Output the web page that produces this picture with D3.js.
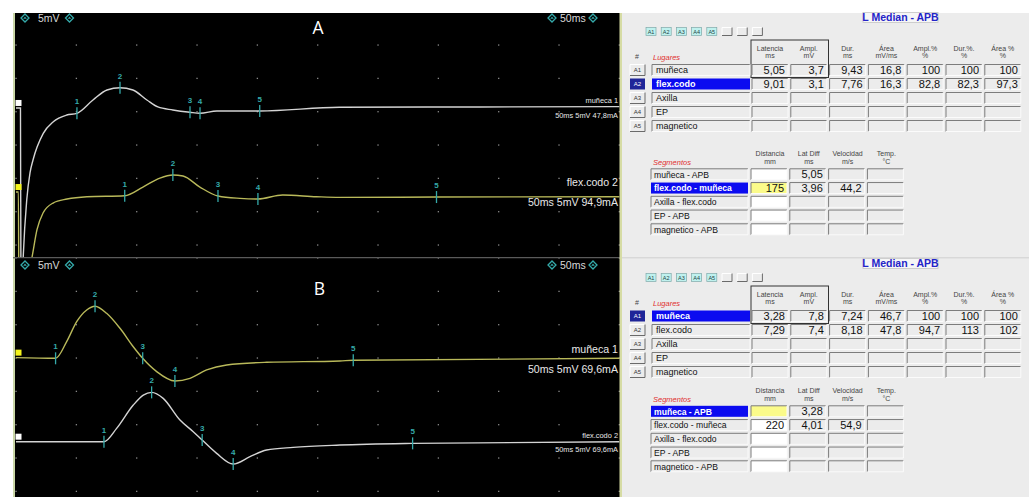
<!DOCTYPE html>
<html><head><meta charset="utf-8">
<script src="https://cdn.jsdelivr.net/npm/d3@7"></script>
<style>
body{margin:0;background:#fff;}
svg{display:block;font-family:"Liberation Sans",Arial,sans-serif;}
</style>
</head><body>
<svg id="c" width="1029" height="497"></svg>
<script>
// ================= DATA =================
const sweepMs = 50;          // ms across the screen
const timeDivMs = 5;         // ms per division
const gainMvPerDiv = 5;      // mV per division
const timeTicks = d3.range(0, sweepMs + 0.01, timeDivMs);

// Panel A traces  [ms, mV]
const traceA_muneca = [[0,0.8],[0.37,0.8],[0.41,-25],[0.5,-26.5],[0.6,-21.5],[0.89,-13],[1.16,-8.95],[1.41,-7],[2.26,-3],[3.09,-1.26],[4.2,-0.26],[5.05,0],[6.38,2],[7.54,3.5],[8.62,3.84],[9.69,3.5],[10.85,2],[11.76,0.95],[13,0.5],[14.42,0.15],[15.25,0],[16.65,0.35],[20.2,0.35],[26.8,0.9],[38.4,0.95],[50,1.0]];
const traceA_flex = [[0,0.55],[0.2,0.55],[0.25,-20],[0.75,-14],[1.33,-9.2],[1.74,-5.1],[2.24,-2.6],[3.07,-1.1],[4.23,-0.5],[5.88,-0.15],[9.01,0],[10.52,1.3],[11.93,2.65],[13.0,3.1],[13.84,2.95],[15.24,1.3],[16.74,-0.05],[18.56,-0.4],[20.05,-0.5],[22.1,0.1],[24.9,-0.15],[26.8,-0.25],[34.85,-0.2],[50,-0.15]];
// Panel B traces
const traceB_muneca = [[0,0.1],[3.28,0],[4.2,2.5],[5.03,5.5],[5.86,7.25],[6.55,7.8],[7.51,6.75],[8.62,4.5],[9.72,1.74],[10.5,0],[11.66,-2.0],[13.17,-3.4],[14.42,-3.0],[15.8,-1.75],[17.46,-1.0],[20.77,-0.6],[26.84,-0.4],[27.95,-0.3],[50,0]];
const traceB_flex = [[0,0],[7.29,0],[8.34,2.0],[9.72,5.5],[10.55,7.0],[11.24,7.4],[12.2,6.5],[13.59,3.25],[14.69,1.5],[15.43,0.25],[16.63,-1.75],[18.0,-3.35],[19.39,-2.25],[20.77,-1.25],[22.97,-0.85],[26.84,-0.5],[32.87,-0.25],[50,0]];

// marker times (ms), markers labelled 1..5
const markersA_muneca = [5.05, 8.62, 14.42, 15.25, 20.2];
const markersA_flex   = [9.01, 13.0, 16.74, 20.05, 34.85];
const markersB_muneca = [3.28, 6.55, 10.5, 13.17, 27.95];
const markersB_flex   = [7.29, 11.24, 15.43, 18.0, 32.87];

const traceNames = ["muñeca 1", "flex.codo 2"];
const stimA = ["50ms 5mV 47,8mA", "50ms 5mV 94,9mA"];
const stimB = ["50ms 5mV 69,6mA", "50ms 5mV 69,6mA"];
const panelLetters = ["A", "B"];
const gainLabel = "5mV", sweepLabel = "50ms";

// tables
const tableTitle = "L Median - APB";
const siteButtons = ["A1","A2","A3","A4","A5","","",""];
const siteIds = ["A1","A2","A3","A4","A5"];
const sites = ["muñeca","flex.codo","Axilla","EP","magnetico"];
const siteHeaders = [["Latencia","ms"],["Ampl.","mV"],["Dur.","ms"],["Área","mV/ms"],["Ampl.%","%"],["Dur.%.","%"],["Área %","%"]];
const siteValuesA = [["5,05","3,7","9,43","16,8","100","100","100"],["9,01","3,1","7,76","16,3","82,8","82,3","97,3"],[],[],[]];
const siteValuesB = [["3,28","7,8","7,24","46,7","100","100","100"],["7,29","7,4","8,18","47,8","94,7","113","102"],[],[],[]];
const segments = ["muñeca - APB","flex.codo - muñeca","Axilla - flex.codo","EP - APB","magnetico - APB"];
const segHeaders = [["Distancia","mm"],["Lat Diff","ms"],["Velocidad","m/s"],["Temp.","°C"]];
const segValuesA = [["","5,05","",""],["175","3,96","44,2",""],[],[],[]];
const segValuesB = [["","3,28","",""],["220","4,01","54,9",""],[],[],[]];

// ================= LAYOUT / STYLE =================
const svg = d3.select("#c");
const W = 1029, H = 497;
svg.append("rect").attr("width", W).attr("height", H).attr("fill", "#fff");

const plotL = 16, divPx = 60.33, plotR = plotL + divPx * (sweepMs / timeDivMs);
const pxPerDivY = 33.33;
const x = d3.scaleLinear().domain([0, sweepMs]).range([plotL, plotR]);
const TEAL = "#35aaaa", WHITE_TR = "#d4d4d4", YEL_TR = "#b9b95a";

const panels = [
  {top: 13, bottom: 257.5, gridY0: 45, nRows: 7, letter: panelLetters[0], letterPos: [318, 33.5], hdrY: 22,
   traces: [
     {data: traceA_muneca, markers: markersA_muneca, color: WHITE_TR, sq: "#ffffff", base: 113.3, big: false, name: traceNames[0], stim: stimA[0], nameY: 103, stimY: 118},
     {data: traceA_flex, markers: markersA_flex, color: YEL_TR, sq: "#f4f41a", base: 195.7, big: true, name: traceNames[1], stim: stimA[1], nameY: 185.5, stimY: 205.5}
   ]},
  {top: 258, bottom: 497, gridY0: 258, nRows: 8, letter: panelLetters[1], letterPos: [319.5, 294.5], hdrY: 269,
   traces: [
     {data: traceB_muneca, markers: markersB_muneca, color: YEL_TR, sq: "#f4f41a", base: 358.3, big: true, name: traceNames[0], stim: stimB[0], nameY: 353, stimY: 372.5},
     {data: traceB_flex, markers: markersB_flex, color: WHITE_TR, sq: "#ffffff", base: 441.7, big: false, name: traceNames[1], stim: stimB[1], nameY: 438, stimY: 451.5}
   ]}
];

function valueAt(data, t) {
  const i = d3.bisector(d => d[0]).left(data, t);
  if (i <= 0) return data[0][1];
  if (i >= data.length) return data[data.length - 1][1];
  const a = data[i - 1], b = data[i];
  return a[1] + (b[1] - a[1]) * (t - a[0]) / (b[0] - a[0]);
}
function diamond(g, cx, cy) {
  g.append("path").attr("d", `M${cx},${cy-4}L${cx+4},${cy}L${cx},${cy+4}L${cx-4},${cy}Z`)
    .attr("fill", "none").attr("stroke", TEAL).attr("stroke-width", 1.3);
  g.append("path").attr("d", `M${cx-1.8},${cy+0.8}L${cx},${cy-1.4}L${cx+1.8},${cy+0.8}Z`).attr("fill", TEAL);
}

panels.forEach((p, pi) => {
  const g = svg.append("g");
  g.append("rect").attr("x", 13).attr("y", p.top).attr("width", 609).attr("height", p.bottom - p.top).attr("fill", "#000");
  const clipId = "clip" + pi;
  svg.append("clipPath").attr("id", clipId).append("rect")
    .attr("x", 15).attr("y", p.top).attr("width", 605).attr("height", p.bottom - p.top);
  // grid dots
  const rows = d3.range(p.nRows).map(k => p.gridY0 + k * pxPerDivY);
  rows.forEach(ry => timeTicks.forEach(t => {
    g.append("rect").attr("x", x(t) - 0.6).attr("y", ry - 0.6).attr("width", 1.3).attr("height", 1.3).attr("fill", "#8a8a8a");
  }));
  // header
  diamond(g, 25, p.hdrY - 4);
  g.append("text").attr("x", 38).attr("y", p.hdrY).attr("font-size", 10.5).attr("fill", "#d8d8d8").text(gainLabel);
  diamond(g, 69.5, p.hdrY - 4);
  diamond(g, 552, p.hdrY - 4);
  g.append("text").attr("x", 560).attr("y", p.hdrY).attr("font-size", 10.5).attr("fill", "#d8d8d8").text(sweepLabel);
  diamond(g, 593, p.hdrY - 4);
  g.append("text").attr("x", p.letterPos[0]).attr("y", p.letterPos[1]).attr("text-anchor", "middle")
    .attr("font-family", "'Open Sans',sans-serif").attr("font-size", 17.5).attr("fill", "#fff").text(p.letter);

  const tg = g.append("g").attr("clip-path", `url(#${clipId})`);
  p.traces.forEach(tr => {
    const y = d3.scaleLinear().domain([0, gainMvPerDiv]).range([tr.base, tr.base - pxPerDivY]);
    const line = d3.line().x(d => x(d[0])).y(d => y(d[1])).curve(d3.curveMonotoneX);
    tg.append("path").datum(tr.data).attr("d", line).attr("fill", "none")
      .attr("stroke", tr.color).attr("stroke-width", 1.4);
    // markers
    tr.markers.forEach((t, i) => {
      const mx = x(t), my = y(valueAt(tr.data, t));
      g.append("line").attr("x1", mx).attr("x2", mx).attr("y1", my - 6).attr("y2", my + 6)
        .attr("stroke", TEAL).attr("stroke-width", 1.3);
      g.append("text").attr("x", mx).attr("y", my - 9).attr("text-anchor", "middle")
        .attr("font-size", 8).attr("font-weight", "bold").attr("fill", TEAL).text(i + 1);
    });
    // square marker
    const sy = y(tr.data[0][1]) - 5;
    g.append("rect").attr("x", 15.5).attr("y", sy - 3).attr("width", 6).attr("height", 6).attr("fill", tr.sq);
    // labels
    const fs = tr.big ? 10.6 : 7.4;
    g.append("text").attr("x", 618).attr("y", tr.nameY).attr("text-anchor", "end").attr("font-size", fs)
      .attr("fill", "#e8e8e8").text(tr.name);
    g.append("text").attr("x", 618).attr("y", tr.stimY).attr("text-anchor", "end").attr("font-size", fs)
      .attr("fill", "#e8e8e8").text(tr.stim);
  });
});
// borders
svg.append("rect").attr("x", 13).attr("y", 13).attr("width", 2).attr("height", H - 13).attr("fill", "#c9d6a6");
svg.append("line").attr("x1", 13).attr("x2", 621).attr("y1", 257.8).attr("y2", 257.8).attr("stroke", "#4a4a4a").attr("stroke-width", 1);
svg.append("rect").attr("x", 619.5).attr("y", 13).attr("width", 2.5).attr("height", H - 13).attr("fill", "#d6dca4");

// ================= RIGHT PANEL =================
const R = svg.append("g");
R.append("rect").attr("x", 622).attr("y", 13).attr("width", W - 622).attr("height", H - 13).attr("fill", "#ececec");
const colX = k => 752 + 38.8 * k, colW = 36;

function sunken(g, x0, y0, w, h, fill) {
  g.append("rect").attr("x", x0).attr("y", y0).attr("width", w).attr("height", h).attr("fill", fill || "none");
  g.append("path").attr("d", `M${x0},${y0+h}V${y0}H${x0+w}`).attr("fill", "none").attr("stroke", "#7c7c7c").attr("stroke-width", 1);
  g.append("path").attr("d", `M${x0+w},${y0}V${y0+h}H${x0}`).attr("fill", "none").attr("stroke", "#fbfbfb").attr("stroke-width", 1);
}
function raised(g, x0, y0, w, h, fill) {
  g.append("rect").attr("x", x0).attr("y", y0).attr("width", w).attr("height", h).attr("fill", fill || "#ececec");
  g.append("path").attr("d", `M${x0},${y0+h}V${y0}H${x0+w}`).attr("fill", "none").attr("stroke", "#fff").attr("stroke-width", 1);
  g.append("path").attr("d", `M${x0+w},${y0}V${y0+h}H${x0}`).attr("fill", "none").attr("stroke", "#6a6a6a").attr("stroke-width", 1);
}

function drawTables(oy, oy2, values, segVals, selSite, selSeg) {
  const g = R.append("g");
  // title
  g.append("rect").attr("x", 863).attr("y", 12.5 + oy).attr("width", 75).attr("height", 10).attr("fill", "#f6f6f6")
    .attr("stroke", "#c4c4c4").attr("stroke-width", 0.8);
  g.append("text").attr("x", 900.5).attr("y", 21 + oy).attr("text-anchor", "middle").attr("font-size", 10.5)
    .attr("font-weight", "bold").attr("fill", "#2424c8").text(tableTitle);
  // buttons
  siteButtons.forEach((b, i) => {
    const bx = 646 + 15.2 * i, by = 27.5 + oy;
    if (b) {
      g.append("rect").attr("x", bx).attr("y", by).attr("width", 10).attr("height", 8).attr("fill", "#bff1ee").attr("stroke", "#7fa9a9").attr("stroke-width", 0.7);
      g.append("text").attr("x", bx + 5).attr("y", by + 6).attr("text-anchor", "middle").attr("font-size", 5.5).attr("fill", "#244").text(b);
    } else {
      raised(g, bx, by, 10, 8, "#ececec");
    }
  });
  // focus frame
  g.append("rect").attr("x", 751).attr("y", 40 + oy).attr("width", 77.5).attr("height", 37.5).attr("fill", "none").attr("stroke", "#333").attr("stroke-width", 1);
  // headers
  g.append("text").attr("x", 637).attr("y", 59 + oy).attr("text-anchor", "middle").attr("font-size", 7).attr("fill", "#444").text("#");
  g.append("text").attr("x", 653).attr("y", 59.5 + oy).attr("font-size", 7.5).attr("font-style", "italic").attr("fill", "#e03030").text("Lugares");
  siteHeaders.forEach((h, k) => {
    const cx = colX(k) + colW / 2;
    g.append("text").attr("x", cx).attr("y", 50.5 + oy).attr("text-anchor", "middle").attr("font-size", 7).attr("fill", "#444").text(h[0]);
    g.append("text").attr("x", cx).attr("y", 58 + oy).attr("text-anchor", "middle").attr("font-size", 7).attr("fill", "#444").text(h[1]);
  });
  sites.forEach((s, i) => {
    const cy = 70 + 14 * i + oy, y0 = cy - 5.5;
    const sel = i === selSite;
    if (sel) {
      g.append("rect").attr("x", 630).attr("y", y0).attr("width", 15).attr("height", 11).attr("fill", "#1f2598");
    } else raised(g, 630, y0, 15, 11, "#ececec");
    g.append("text").attr("x", 637.5).attr("y", cy + 2.2).attr("text-anchor", "middle").attr("font-size", 6)
      .attr("fill", sel ? "#fff" : "#333").text(siteIds[i]);
    if (sel) g.append("rect").attr("x", 652).attr("y", y0).attr("width", 98).attr("height", 11).attr("fill", "#0b0bf0");
    else sunken(g, 652, y0, 98, 11, "#ececec");
    g.append("text").attr("x", 656).attr("y", cy + 3.2).attr("font-size", 9).attr("font-weight", sel ? "bold" : "normal")
      .attr("fill", sel ? "#fff" : "#111").text(s);
    siteHeaders.forEach((h, k) => {
      sunken(g, colX(k), y0, colW, 11, "#ececec");
      const v = values[i][k];
      if (v) g.append("text").attr("x", colX(k) + colW - 3).attr("y", cy + 4).attr("text-anchor", "end")
        .attr("font-size", 11).attr("fill", "#111").text(v);
    });
  });
  // segments
  g.append("text").attr("x", 653).attr("y", 164.5 + oy2).attr("font-size", 7.5).attr("font-style", "italic").attr("fill", "#e03030").text("Segmentos");
  segHeaders.forEach((h, k) => {
    const cx = colX(k) + colW / 2;
    g.append("text").attr("x", cx).attr("y", 155.8 + oy2).attr("text-anchor", "middle").attr("font-size", 7).attr("fill", "#444").text(h[0]);
    g.append("text").attr("x", cx).attr("y", 164 + oy2).attr("text-anchor", "middle").attr("font-size", 7).attr("fill", "#444").text(h[1]);
  });
  segments.forEach((s, i) => {
    const cy = 174.3 + 13.75 * i + oy2, y0 = cy - 5.5;
    const sel = i === selSeg;
    if (sel) g.append("rect").attr("x", 651).attr("y", y0).attr("width", 97).attr("height", 11).attr("fill", "#0b0bf0");
    else sunken(g, 651, y0, 97, 11, "#ececec");
    g.append("text").attr("x", 654).attr("y", cy + 3.2).attr("font-size", 8.6).attr("font-weight", sel ? "bold" : "normal")
      .attr("fill", sel ? "#fff" : "#111").text(s);
    segHeaders.forEach((h, k) => {
      const fill = k === 0 ? (sel ? "#fbfb8a" : "#ffffff") : "#ececec";
      sunken(g, colX(k) - 1, y0, colW, 11, fill);
      const v = segVals[i][k];
      if (v) g.append("text").attr("x", colX(k) + colW - 4).attr("y", cy + 4).attr("text-anchor", "end")
        .attr("font-size", 11).attr("fill", "#111").text(v);
    });
  });
}
drawTables(0, 0, siteValuesA, segValuesA, 1, 1);
drawTables(246, 237, siteValuesB, segValuesB, 0, 0);
svg.append("line").attr("x1", 622).attr("x2", W).attr("y1", 257.8).attr("y2", 257.8).attr("stroke", "#d0d0d0");
</script>
</body></html>
